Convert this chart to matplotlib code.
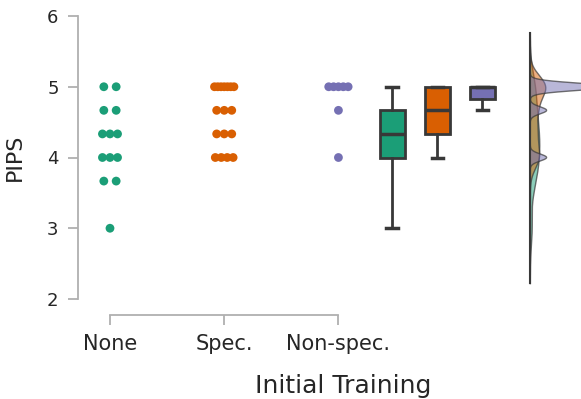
import numpy as np
import matplotlib.pyplot as plt

# PIPS scores per initial-training group
groups = ['None', 'Spec.', 'Non-spec.']
colors = ['#1b9e77', '#d95f02', '#7570b3']
pips_none = [3.0, 11/3, 11/3, 4.0, 4.0, 4.0, 13/3, 13/3, 13/3, 14/3, 14/3, 5.0, 5.0]
pips_spec = [4.0, 4.0, 4.0, 4.0, 13/3, 13/3, 13/3, 14/3, 14/3, 14/3,
             5.0, 5.0, 5.0, 5.0, 5.0, 5.0, 5.0]
pips_nonspec = [4.0, 14/3, 5.0, 5.0, 5.0, 5.0, 5.0]
data = [pips_none, pips_spec, pips_nonspec]

# kde bandwidth per group
kde_bw = [0.24, 0.16, 0.05]

spine_col = '#b0b0b0'
text_col = '#262626'
edge_col = '#383838'

fig = plt.figure(figsize=(5.81, 3.99), dpi=100)
ax = fig.add_axes([94/581, 100/399, 498/581, 283/399])


def spread(vals, width=0.085):
    # spread repeated values side by side instead of random jitter
    vals = np.asarray(vals)
    offs = np.zeros(len(vals))
    for v in np.unique(vals):
        idx = np.where(np.isclose(vals, v))[0]
        k = len(idx)
        if k > 1:
            a = min(width, 0.03 + 0.012 * k)
            offs[idx] = np.linspace(-a, a, k)
    return offs


# strip plot
for i, vals in enumerate(data):
    x = i + spread(vals)
    ax.scatter(x, vals, s=40, color=colors[i], edgecolor='none', zorder=3)

# box plots beside the strips
box_pos = [2.47 + 0.395 * i for i in range(3)]
bp = ax.boxplot(data, positions=box_pos, widths=0.22, whis=1.5, showfliers=False,
                patch_artist=True, manage_ticks=False,
                boxprops=dict(edgecolor=edge_col, linewidth=2),
                medianprops=dict(color=edge_col, linewidth=2.5),
                whiskerprops=dict(color=edge_col, linewidth=2),
                capprops=dict(color=edge_col, linewidth=2.5))
for patch, c in zip(bp['boxes'], colors):
    patch.set_facecolor(c)
for cap in bp['caps']:
    m = np.mean(cap.get_xdata())
    cap.set_xdata([m - 0.05, m + 0.05])

# density curves along the right side
kde_x0 = 3.68
kde_scale = 0.125
lo, hi = 2.22, 5.76
grid = np.linspace(lo, hi, 600)
for vals, c, bw in zip(data, colors, kde_bw):
    vals = np.asarray(vals)
    dens = np.exp(-0.5 * ((grid[:, None] - vals[None, :]) / bw) ** 2).sum(1)
    dens /= len(vals) * bw * np.sqrt(2 * np.pi)
    ax.fill_betweenx(grid, kde_x0, kde_x0 + dens * kde_scale, facecolor=c,
                     alpha=0.5, edgecolor='none', zorder=2)
    ax.plot(kde_x0 + dens * kde_scale, grid, color=edge_col, lw=1, alpha=0.7, zorder=2)
ax.plot([kde_x0, kde_x0], [lo, hi], color=edge_col, lw=1.5, zorder=2)

ax.set_xlim(-0.14, 4.22)
ax.set_ylim(2, 6)
ax.set_yticks([2, 3, 4, 5, 6])
ax.set_xticks([0, 1, 2])
ax.set_xticklabels(groups)

for s in ['top', 'right']:
    ax.spines[s].set_visible(False)
ax.spines['left'].set_position(('outward', 11.5))
ax.spines['bottom'].set_position(('outward', 11.5))
ax.spines['left'].set_bounds(2, 6)
ax.spines['bottom'].set_bounds(0, 2)
for s in ['left', 'bottom']:
    ax.spines[s].set_color(spine_col)
    ax.spines[s].set_linewidth(1.3)
ax.tick_params(axis='both', colors=spine_col, length=7, width=1.3, pad=7)
ax.tick_params(axis='y', labelsize=13, labelcolor=text_col)
ax.tick_params(axis='x', labelsize=15, labelcolor=text_col)

ax.set_xlabel('Initial Training', fontsize=18, color=text_col, labelpad=14)
ax.set_ylabel('PIPS', fontsize=16, color=text_col, labelpad=16)

fig.savefig('out.png', dpi=100)
